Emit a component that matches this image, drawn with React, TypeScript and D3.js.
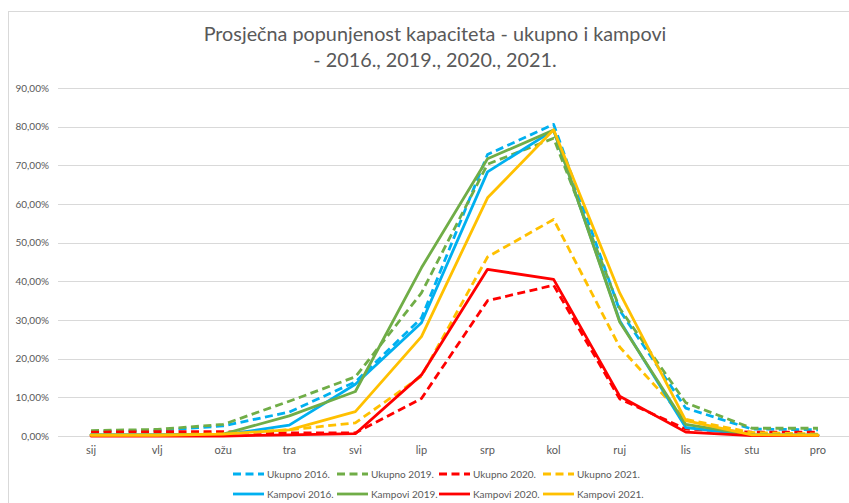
import React from "react";
import * as d3 from "d3";

const months = ["sij", "vlj", "ožu", "tra", "svi", "lip", "srp", "kol", "ruj", "lis", "stu", "pro"];
const yTicks = [0, 10, 20, 30, 40, 50, 60, 70, 80, 90];

const ukupno2016 = [1.2, 1.4, 2.6, 6.2, 14.0, 30.5, 72.8, 80.6, 32.5, 7.2, 1.8, 1.6];
const ukupno2019 = [1.4, 1.7, 3.0, 9.0, 15.3, 37.0, 70.3, 77.0, 33.0, 8.6, 2.0, 2.0];
const ukupno2020 = [1.0, 1.1, 1.1, 0.8, 0.8, 9.7, 35.0, 39.0, 9.6, 1.8, 1.0, 1.0];
const ukupno2021 = [0.3, 0.3, 0.6, 1.6, 3.4, 15.5, 46.3, 56.0, 23.0, 4.3, 0.9, 0.5];
const kampovi2016 = [0.3, 0.3, 0.3, 2.8, 13.4, 29.3, 68.3, 79.1, 29.8, 2.2, 0.2, 0.2];
const kampovi2019 = [0.3, 0.3, 0.5, 5.2, 11.5, 43.5, 71.7, 79.1, 29.5, 3.0, 0.3, 0.2];
const kampovi2020 = [0.0, 0.0, 0.0, 0.3, 0.6, 15.8, 43.1, 40.5, 10.3, 1.0, 0.1, 0.1];
const kampovi2021 = [0.2, 0.2, 0.5, 1.6, 6.3, 25.7, 61.6, 79.2, 37.0, 4.0, 0.3, 0.2];

const seriesNames = [
  "Ukupno 2016.", "Ukupno 2019.", "Ukupno 2020.", "Ukupno 2021.",
  "Kampovi 2016.", "Kampovi 2019.", "Kampovi 2020.", "Kampovi 2021.",
];
const seriesValues = [ukupno2016, ukupno2019, ukupno2020, ukupno2021, kampovi2016, kampovi2019, kampovi2020, kampovi2021];
const seriesColors = ["#00B0F0", "#70AD47", "#FF0000", "#FFC000", "#00B0F0", "#70AD47", "#FF0000", "#FFC000"];
const seriesDashed = [true, true, true, true, false, false, false, false];

const W = 849;
const H = 503;
const FONT = "Lato, 'Open Sans', sans-serif";
const TXT = "#595959";

export default function App() {
  const x = d3.scaleBand<string>().domain(months).range([58, 851]);
  const xc = (m: string) => (x(m) as number) + x.bandwidth() / 2;
  const y = d3.scaleLinear().domain([0, 90]).range([436, 88]);
  const line = d3
    .line<number>()
    .x((_, i) => xc(months[i]))
    .y((d) => y(d));
  const fmt = (v: number) => v.toFixed(2).replace(".", ",") + "%";

  const legendX = [233, 337, 439, 543];
  const legendY = [474, 494];

  return (
    <svg
      width={W}
      height={H}
      style={{ position: "absolute", left: 0, top: 0, display: "block", background: "#fff" }}
      fontFamily={FONT}
    >
      <rect x={8.5} y={11.5} width={W + 10} height={H + 10} fill="#fff" stroke="#D9D9D9" strokeWidth={1} />
      <text x={435} y={41} textAnchor="middle" fontSize={19.8} fill={TXT}>
        Prosječna popunjenost kapaciteta - ukupno i kampovi
      </text>
      <text x={435} y={67} textAnchor="middle" fontSize={19.8} fill={TXT}>
        - 2016., 2019., 2020., 2021.
      </text>
      {yTicks.map((t) => (
        <g key={t}>
          <line x1={58} x2={851} y1={Math.round(y(t)) + 0.5} y2={Math.round(y(t)) + 0.5} stroke="#D9D9D9" strokeWidth={1} />
          <text x={49} y={y(t) + 3.5} textAnchor="end" fontSize={10} fill={TXT}>
            {fmt(t)}
          </text>
        </g>
      ))}
      {months.map((m) => (
        <text key={m} x={xc(m)} y={454} textAnchor="middle" fontSize={11} fill={TXT}>
          {m}
        </text>
      ))}
      {seriesValues.map((vals, i) => (
        <path
          key={seriesNames[i]}
          d={line(vals) || ""}
          fill="none"
          stroke={seriesColors[i]}
          strokeWidth={2.8}
          strokeLinejoin="round"
          strokeLinecap={seriesDashed[i] ? "butt" : "round"}
          strokeDasharray={seriesDashed[i] ? "8,4.5" : undefined}
        />
      ))}
      {seriesNames.map((name, i) => {
        const col = i % 4;
        const row = Math.floor(i / 4);
        const lx = legendX[col];
        const ly = legendY[row];
        return (
          <g key={name}>
            <line
              x1={lx}
              x2={lx + 31}
              y1={ly}
              y2={ly}
              stroke={seriesColors[i]}
              strokeWidth={2.8}
              strokeDasharray={seriesDashed[i] ? "8,4.5" : undefined}
            />
            <text x={lx + 34} y={ly + 3.6} fontSize={10} fill={TXT}>
              {name}
            </text>
          </g>
        );
      })}
    </svg>
  );
}
